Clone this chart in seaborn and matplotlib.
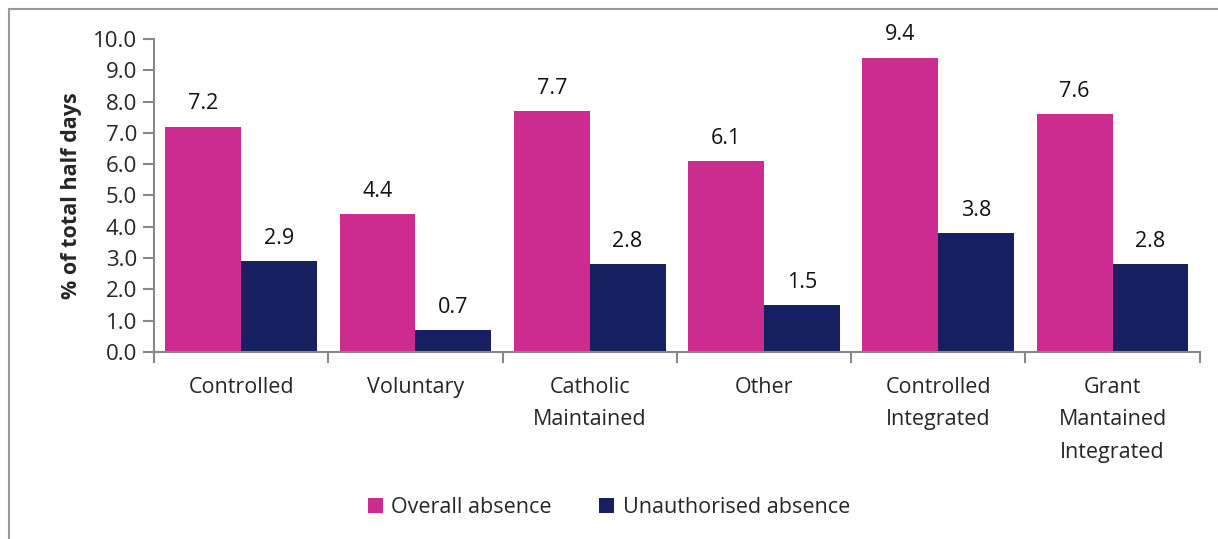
import seaborn as sns
import pandas as pd
import matplotlib.pyplot as plt
from matplotlib.patches import Rectangle

categories = ["Controlled", "Voluntary", "Catholic\nMaintained", "Other",
              "Controlled\nIntegrated", "Grant\nMantained\nIntegrated"]
overall = [7.2, 4.4, 7.7, 6.1, 9.4, 7.6]
unauthorised = [2.9, 0.7, 2.8, 1.5, 3.8, 2.8]
series = ["Overall absence", "Unauthorised absence"]
colors = ["#CC2C8F", "#172060"]

df = pd.DataFrame({
    "school": categories * 2,
    "value": overall + unauthorised,
    "series": [series[0]] * len(categories) + [series[1]] * len(categories),
})

sns.set_style("white")
plt.rcParams["font.family"] = ["Open Sans", "DejaVu Sans"]
fs = 15.5
plt.rcParams["font.size"] = fs

fig = plt.figure(figsize=(12.18, 5.39), dpi=100)
ax = fig.add_axes([0.1264, 0.347, 0.8586, 0.5806])

sns.barplot(data=df, x="school", y="value", hue="series", palette=colors,
            width=0.87, saturation=1, linewidth=0, ax=ax, legend=True)

for container in ax.containers:
    ax.bar_label(container, fmt="%.1f", padding=9, fontsize=fs, color="#111111")

ax.set_ylim(0, 10)
ax.set_xlim(-0.5, len(categories) - 0.5)
ax.set_yticks([i for i in range(11)])
ax.set_yticklabels([f"{i:.1f}" for i in range(11)], fontsize=16)
ax.set_ylabel("% of total half days", fontsize=fs, fontweight="bold", labelpad=8)
ax.set_xlabel("")

# boundary marks on major ticks, category labels on minor ticks
ax.set_xticks([i - 0.5 for i in range(len(categories) + 1)])
ax.set_xticklabels([])
ax.set_xticks([i for i in range(len(categories))], minor=True)
ax.set_xticklabels(categories, minor=True, fontsize=fs, linespacing=1.72, va="top")
ax.tick_params(axis="x", which="minor", length=0, pad=18, labelsize=fs)
ax.tick_params(axis="x", which="major", length=8, width=1.5, color="#888888", direction="out")
ax.tick_params(axis="y", length=8, width=1.5, color="#888888", direction="out", pad=4)
ax.tick_params(bottom=True, left=True, which="major")

for side in ["top", "right"]:
    ax.spines[side].set_visible(False)
for side in ["left", "bottom"]:
    ax.spines[side].set_color("#888888")
    ax.spines[side].set_linewidth(1.5)

handles, labels = ax.get_legend_handles_labels()
ax.legend(handles, labels, loc="center", bbox_to_anchor=(0.5, 0.058),
          bbox_transform=fig.transFigure, ncol=2, frameon=False,
          fontsize=fs, handlelength=0.7, handleheight=0.7,
          handletextpad=0.4, columnspacing=2.2)

fig.patches.append(Rectangle((9 / 1218, -0.05), 1.1, 1 - 9 / 539 + 0.05,
                             transform=fig.transFigure, fill=False,
                             edgecolor="#999999", linewidth=1.5))

fig.savefig("out.png", dpi=100)
